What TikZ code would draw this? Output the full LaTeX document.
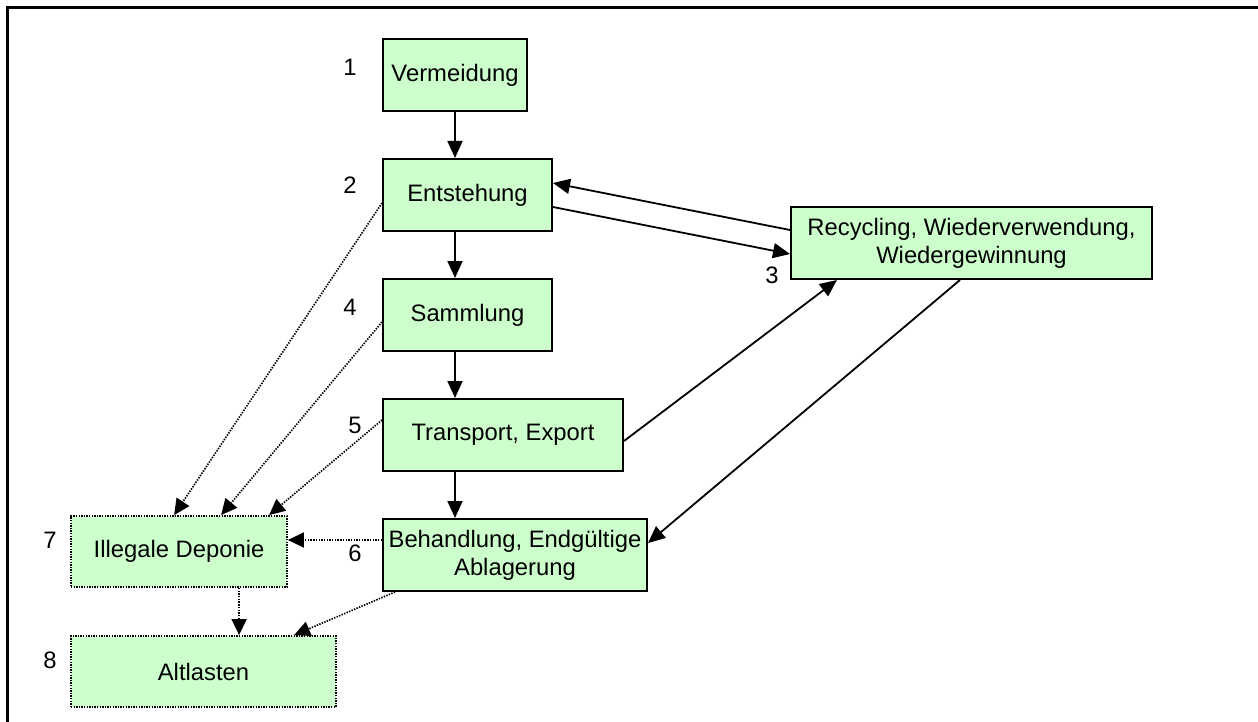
\documentclass[tikz,border=0pt]{standalone}
\usepackage{fontspec}
\setmainfont{Liberation Sans}
\usetikzlibrary{arrows.meta,calc}
\definecolor{boxgreen}{HTML}{CCFFCC}
\begin{document}
\begin{tikzpicture}[x=1pt,y=-1pt,
  every node/.style={font=\fontsize{23.8}{28}\selectfont},
  stage/.style={draw=black,line width=2pt,fill=boxgreen,inner sep=0pt,
    align=center,minimum height=72pt},
  illegal/.style={stage,dash pattern=on 1.4pt off 1.2pt,line width=1.8pt},
  num/.style={inner sep=0pt},
  arr/.style={line width=1.8pt,-{Triangle[length=17pt,width=15pt]}},
  dotarr/.style={line width=1.7pt,dash pattern=on 1.4pt off 1.3pt,
    -{Triangle[length=16pt,width=15pt]}}]
  \useasboundingbox (0,0) rectangle (1258,722);
  % frame: left and top edges
  \draw[line width=2.7pt] (7.5,722) -- (7.5,7.5) -- (1258,7.5);

  % stages of the waste chain
  \node[stage,minimum width=144pt] (verm)  at (455,75)    {Vermeidung};
  \node[stage,minimum width=169pt] (ent)   at (467.5,195) {Entstehung};
  \node[stage,minimum width=169pt] (samm)  at (467.5,315) {Sammlung};
  \node[stage,minimum width=240pt] (trans) at (503,435)   {Transport, Export};
  \node[stage,minimum width=264pt] (beh)   at (515,555)   {Behandlung, Endgültige\\Ablagerung};
  \node[stage,minimum width=361pt] (rec)   at (971.5,243) {Recycling, Wiederverwendung,\\Wiedergewinnung};
  \node[illegal,minimum width=216pt,minimum height=71pt] (ill) at (179,551.5) {Illegale Deponie};
  \node[illegal,minimum width=265pt,minimum height=71pt] (alt) at (203.5,671.5) {Altlasten};

  % stage numbers
  \node[num] (n1) at (350,67)  {1};
  \node[num] (n2) at (350,185) {2};
  \node[num] (n3) at (772,275) {3};
  \node[num] (n4) at (350,307) {4};
  \node[num] (n5) at (355,425) {5};
  \node[num] (n6) at (355,553) {6};
  \node[num] (n7) at (50,540)  {7};
  \node[num] (n8) at (50,660)  {8};

  % main chain
  \draw[arr] (verm.south) -- (verm.south |- ent.north);
  \draw[arr] (ent.south -| verm.south) -- (samm.north -| verm.south);
  \draw[arr] (samm.south -| verm.south) -- (trans.north -| verm.south);
  \draw[arr] (trans.south -| verm.south) -- (beh.north -| verm.south);

  % recycling loop
  \draw[arr] ($(rec.west)+(0,-13)$) -- ($(ent.east)+(0,-12)$);
  \draw[arr] ($(ent.east)+(0,12)$) -- ($(rec.west)+(0,11)$);
  \draw[arr] ($(trans.east)+(0,6)$) -- ($(rec.south west)+(47,0)$);
  \draw[arr] ($(rec.south)+(-11.5,0)$) -- ($(beh.east)+(0,-12)$);

  % illegal paths
  \draw[dotarr] ($(ent.west)+(0,8)$)     -- ($(ill.north west)+(104,0)$);
  \draw[dotarr] ($(samm.west)+(0,7)$)    -- ($(ill.north west)+(151,0)$);
  \draw[dotarr] ($(trans.west)+(0,-15)$) -- ($(ill.north west)+(199,0)$);
  \draw[dotarr] ($(beh.west)+(0,-15)$)   -- ($(ill.east)+(0,-11.5)$);
  \draw[dotarr] ($(ill.south west)+(169,0)$) -- ($(alt.north west)+(169,0)$);
  \draw[dotarr] ($(beh.south west)+(13,0)$)  -- ($(alt.north west)+(224,0)$);
\end{tikzpicture}
\end{document}
